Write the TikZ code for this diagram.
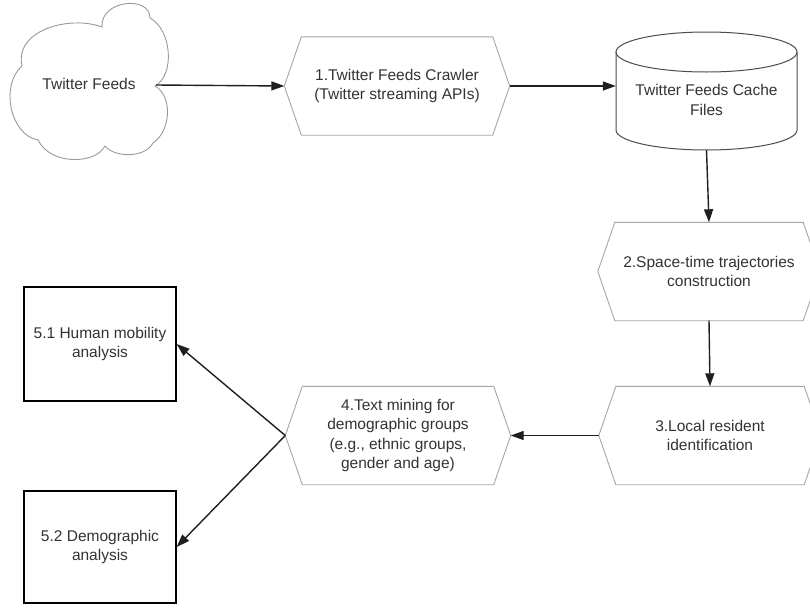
\documentclass[tikz,border=0pt]{standalone}
\usepackage{fontspec}
\setmainfont{Liberation Sans}
\usetikzlibrary{arrows.meta}
\newcommand\drawhex[1]{%
  \draw[hexline] (#1.west) -- ([xshift=17pt]#1.north west) -- ([xshift=-17pt]#1.north east)
    -- (#1.east) -- ([xshift=-17pt]#1.south east) -- ([xshift=17pt]#1.south west) -- cycle;}
\begin{document}
\begin{tikzpicture}[x=1pt,y=-1pt,
  txt/.style={font=\fontsize{15.5}{19.5}\selectfont, text=black!80, align=center},
  hexnode/.style={txt, minimum width=#1, minimum height=98pt, inner sep=0pt},
  hexline/.style={draw=black!35, line width=0.9pt},
  boxnode/.style={txt, draw=black, line width=1.2pt, minimum width=152pt, inner sep=0pt},
  cylline/.style={draw=black!70, line width=1pt},
  cloudline/.style={draw=black!40, line width=0.9pt},
  arr/.style={draw=black!88, line width=1.4pt, -{Triangle[length=13pt,width=9pt]}}]
\fill[white] (0,0) rectangle (810,608);
\useasboundingbox (0,0) rectangle (810,608);

% cloud
\draw[cloudline] (22,66) .. controls (14,30) and (70,15) .. (102,27)
  .. controls (100,0) and (150,-5) .. (150,18)
  .. controls (172,30) and (175,75) .. (155,86)
  .. controls (172,95) and (172,130) .. (153,143)
  .. controls (145,158) and (115,158) .. (105,146)
  .. controls (95,165) and (50,165) .. (38,140)
  .. controls (10,135) and (0,85) .. (22,66) -- cycle;
\node[txt] (feeds) at (89,84) {Twitter Feeds};
\coordinate (cloudR) at (156,85);

% hexagons
\node[hexnode=225pt] (h1) at (397,86) {1.Twitter Feeds Crawler\\(Twitter streaming APIs)};
\drawhex{h1}
\node[hexnode=222pt] (h2) at (709,271.5) {2.Space-time trajectories\\construction};
\drawhex{h2}
\node[hexnode=222pt] (h3) at (710,435.5) {3.Local resident\\identification};
\drawhex{h3}
\node[hexnode=225pt] (h4) at (398,435.5) {4.Text mining for\\demographic groups\\(e.g., ethnic groups,\\gender and age)};
\drawhex{h4}

% cylinder
\node[txt, minimum width=181pt, minimum height=118pt, inner sep=0pt] (cyl) at (706.5,91) {};
\draw[cylline] (616,52) -- (616,130) arc[start angle=180, end angle=360, x radius=90.5pt, y radius=20pt] -- (797,52);
\draw[cylline] (706.5,52) ellipse [x radius=90.5pt, y radius=20pt];
\node[txt] (cyltext) at (706.5,100) {Twitter Feeds Cache\\Files};

% boxes
\node[boxnode, minimum height=114pt] (b1) at (100,344) {5.1 Human mobility\\analysis};
\node[boxnode, minimum height=112pt] (b2) at (100,547) {5.2 Demographic\\analysis};

% connectors
\draw[arr] (cloudR) -- (h1.west);
\draw[arr] (h1.east) -- (h1.east -| cyl.west);
\draw[arr] (cyl.south) -- (h2.north);
\draw[arr] (h2.south) -- (h3.north);
\draw[arr] (h3.west) -- (h4.east);
\draw[arr] (h4.west) -- (b1.east);
\draw[arr] (h4.west) -- (b2.east);
\end{tikzpicture}
\end{document}
